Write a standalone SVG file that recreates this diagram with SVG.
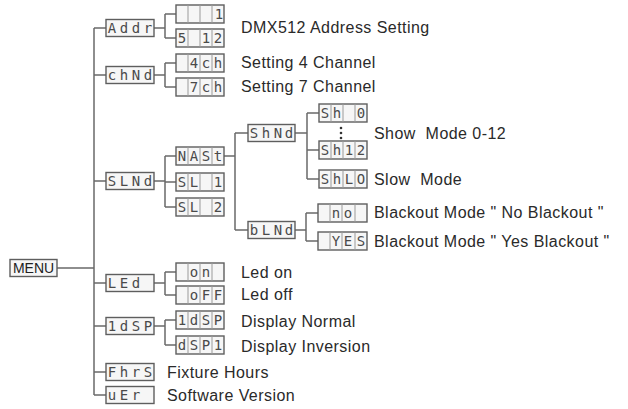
<svg xmlns="http://www.w3.org/2000/svg" width="628" height="409" viewBox="0 0 628 409">
<style>
.bg{fill:#fff}
.disp{fill:#f6f6f6;stroke:#5e5e5e;stroke-width:1.4}
.cell{stroke:#9a9a9a;stroke-width:1;fill:none}
.seg{font-family:"DejaVu Sans Mono","Liberation Mono",monospace;font-size:14px;fill:#4a4a4a;text-anchor:middle}
.menu{font-family:"Liberation Sans",Arial,sans-serif;font-size:14px;fill:#222;text-anchor:middle}
.lbl{font-family:"Liberation Sans",Arial,sans-serif;font-size:16px;letter-spacing:0.45px;fill:#2a2a2a}
.wire{stroke:#6a6a6a;stroke-width:1.5;fill:none}
.dot{fill:#333}
</style>
<rect class="bg" width="628" height="409"/>
<g id="connectors">
<path class="wire" d="M57 268H94M94 28V395M94 28H106M94 75H106M94 181H106M94 283H106M94 326H106M94 372H106M94 395H106"/>
<path class="wire" d="M154 28H165M165 14V38M165 14H176M165 38H176"/>
<path class="wire" d="M154 75H165M165 63V87M165 63H176M165 87H176"/>
<path class="wire" d="M154 181H165M165 156V207M165 156H176M165 182H176M165 207H176"/>
<path class="wire" d="M154 283H165M165 272V295M165 272H176M165 295H176"/>
<path class="wire" d="M154 326H165M165 320V345M165 320H176M165 345H176"/>
<path class="wire" d="M224 156H235M235 133V230M235 133H248M235 230H248"/>
<path class="wire" d="M295 133H307M307 113V179M307 113H319M307 150H319M307 179H319"/>
<path class="wire" d="M295 230H306M306 213V241M306 213H318M306 241H318"/>
</g>
<g id="menu"><rect class="disp" x="10" y="259.5" width="47" height="17"/><text class="menu" x="33.5" y="273">MENU</text></g>
<g id="addr"><rect class="disp" x="106" y="19.5" width="48" height="17"/><text class="seg" x="112 124 136 148" y="33">Addr</text></g>
<g id="addr-blank"><rect class="disp" x="176" y="5" width="48" height="18"/><path class="cell" d="M188 5v18M200 5v18M212 5v18"/><text class="seg" x="219" y="19">1</text></g>
<g id="addr-512"><rect class="disp" x="176" y="29" width="48" height="18"/><path class="cell" d="M188 29v18M200 29v18M212 29v18"/><text class="seg" x="182 206 218" y="43">512</text></g>
<g id="chnd"><rect class="disp" x="106" y="66.5" width="48" height="17"/><text class="seg" x="112 124 136 148" y="80">chNd</text></g>
<g id="ch4"><rect class="disp" x="176" y="54" width="48" height="18"/><path class="cell" d="M188 54v18M200 54v18M212 54v18"/><text class="seg" x="194 206 218" y="68">4ch</text></g>
<g id="ch7"><rect class="disp" x="176" y="78" width="48" height="18"/><path class="cell" d="M188 78v18M200 78v18M212 78v18"/><text class="seg" x="194 206 218" y="92">7ch</text></g>
<g id="slnd"><rect class="disp" x="106" y="172.5" width="48" height="17"/><text class="seg" x="112 124 136 148" y="186">SLNd</text></g>
<g id="nast"><rect class="disp" x="176" y="147" width="48" height="18"/><path class="cell" d="M188 147v18M200 147v18M212 147v18"/><text class="seg" x="182 194 206 218" y="161">NASt</text></g>
<g id="sl1"><rect class="disp" x="176" y="173" width="48" height="18"/><path class="cell" d="M188 173v18M200 173v18M212 173v18"/><text class="seg" x="182 194 218" y="187">SL1</text></g>
<g id="sl2"><rect class="disp" x="176" y="198" width="48" height="18"/><path class="cell" d="M188 198v18M200 198v18M212 198v18"/><text class="seg" x="182 194 218" y="212">SL2</text></g>
<g id="shnd"><rect class="disp" x="248" y="124.5" width="47" height="17"/><text class="seg" x="254 266 278 289" y="138">ShNd</text></g>
<g id="blnd"><rect class="disp" x="248" y="221.5" width="47" height="17"/><text class="seg" x="254 266 278 289" y="235">bLNd</text></g>
<g id="sh0"><rect class="disp" x="319" y="104" width="48" height="18"/><path class="cell" d="M331 104v18M343 104v18M355 104v18"/><text class="seg" x="325 337 361" y="118">Sh0</text></g>
<g id="dots"><circle class="dot" cx="341" cy="128" r="1.3"/><circle class="dot" cx="341" cy="133" r="1.3"/><circle class="dot" cx="341" cy="138" r="1.3"/></g>
<g id="sh12"><rect class="disp" x="319" y="141" width="48" height="18"/><path class="cell" d="M331 141v18M343 141v18M355 141v18"/><text class="seg" x="325 337 349 361" y="155">Sh12</text></g>
<g id="shlo"><rect class="disp" x="319" y="170" width="48" height="18"/><path class="cell" d="M331 170v18M343 170v18M355 170v18"/><text class="seg" x="325 337 349 361" y="184">ShLO</text></g>
<g id="no"><rect class="disp" x="318" y="204" width="49" height="18"/><path class="cell" d="M330 204v18M342 204v18M355 204v18"/><text class="seg" x="336 348" y="218">no</text></g>
<g id="yes"><rect class="disp" x="318" y="232" width="49" height="18"/><path class="cell" d="M330 232v18M342 232v18M355 232v18"/><text class="seg" x="336 348 361" y="246">YES</text></g>
<g id="led"><rect class="disp" x="106" y="274.5" width="48" height="17"/><text class="seg" x="112 124 136" y="288">LEd</text></g>
<g id="on"><rect class="disp" x="176" y="263" width="48" height="18"/><path class="cell" d="M188 263v18M200 263v18M212 263v18"/><text class="seg" x="194 206" y="277">on</text></g>
<g id="off"><rect class="disp" x="176" y="286" width="48" height="18"/><path class="cell" d="M188 286v18M200 286v18M212 286v18"/><text class="seg" x="194 206 218" y="300">oFF</text></g>
<g id="idsp"><rect class="disp" x="106" y="317.5" width="48" height="17"/><text class="seg" x="112 124 136 148" y="331">1dSP</text></g>
<g id="idsp-n"><rect class="disp" x="176" y="311" width="48" height="18"/><path class="cell" d="M188 311v18M200 311v18M212 311v18"/><text class="seg" x="182 194 206 218" y="325">1dSP</text></g>
<g id="dspi"><rect class="disp" x="176" y="336" width="48" height="18"/><path class="cell" d="M188 336v18M200 336v18M212 336v18"/><text class="seg" x="182 194 206 218" y="350">dSP1</text></g>
<g id="fhrs"><rect class="disp" x="106" y="363.5" width="48" height="17"/><text class="seg" x="112 124 136 148" y="377">FhrS</text></g>
<g id="uer"><rect class="disp" x="106" y="386.5" width="48" height="17"/><text class="seg" x="112 124 136" y="400">uEr</text></g>
<g id="labels">
<text class="lbl" x="241" y="33">DMX512 Address Setting</text>
<text class="lbl" x="241" y="68">Setting 4 Channel</text>
<text class="lbl" x="241" y="92">Setting 7 Channel</text>
<text class="lbl" x="374" y="139" xml:space="preserve">Show  Mode 0-12</text>
<text class="lbl" x="374" y="185" xml:space="preserve">Slow  Mode</text>
<text class="lbl" x="374" y="218">Blackout Mode " No Blackout "</text>
<text class="lbl" x="374" y="247">Blackout Mode " Yes Blackout "</text>
<text class="lbl" x="241" y="278">Led on</text>
<text class="lbl" x="241" y="300">Led off</text>
<text class="lbl" x="241" y="327">Display Normal</text>
<text class="lbl" x="241" y="352">Display Inversion</text>
<text class="lbl" x="167" y="378">Fixture Hours</text>
<text class="lbl" x="167" y="401">Software Version</text>
</g>
</svg>
